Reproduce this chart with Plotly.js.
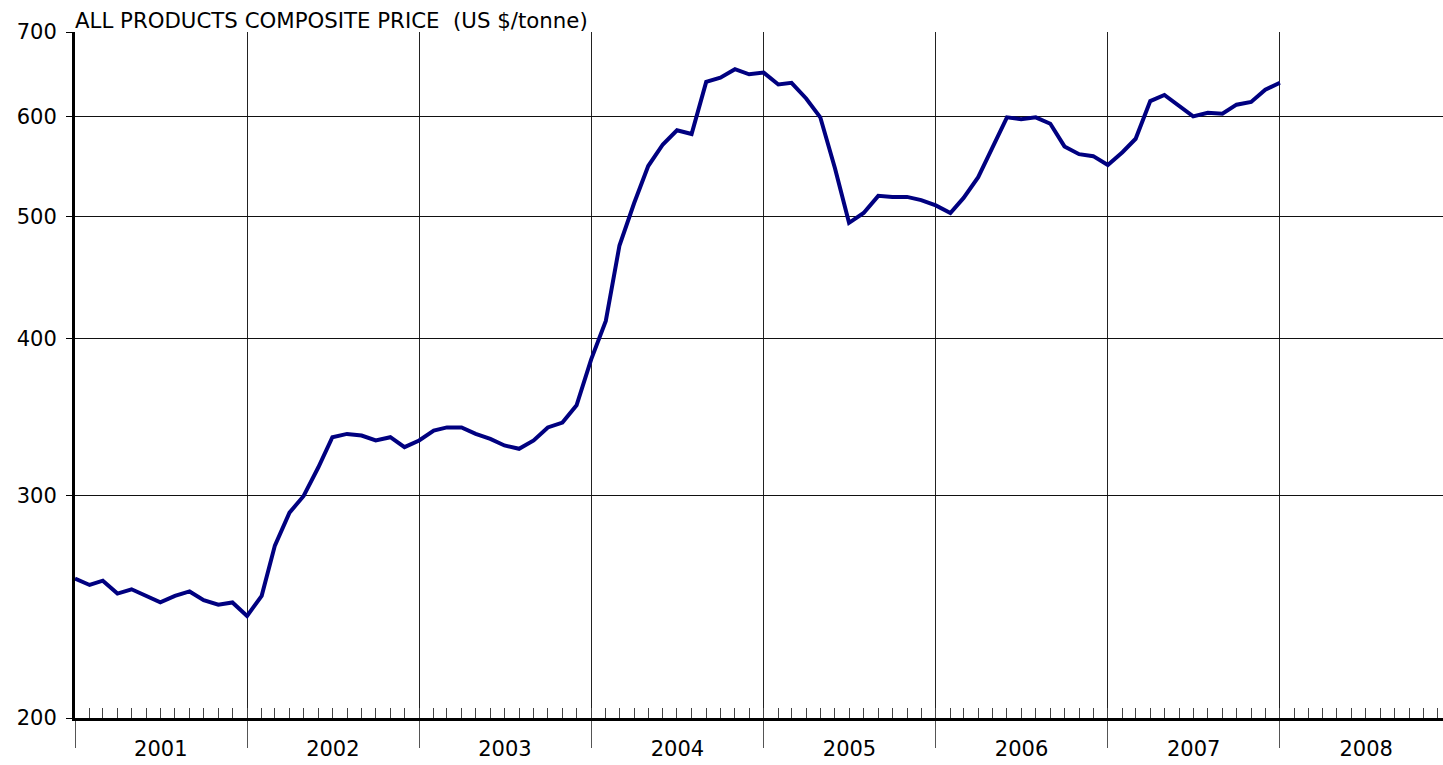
<!DOCTYPE html>
<html>
<head>
<meta charset="utf-8">
<script src="https://cdn.plot.ly/plotly-3.0.1.min.js"></script>
<style>html,body{margin:0;padding:0;background:#fff;overflow:hidden}#chart{width:1443px;height:765px}</style>
</head>
<body>
<div id="chart"></div>
<script>
// Monthly observations, Jan 2001 .. Jan 2008
var months = [
  "2001-01","2001-02","2001-03","2001-04","2001-05","2001-06","2001-07","2001-08","2001-09","2001-10","2001-11","2001-12",
  "2002-01","2002-02","2002-03","2002-04","2002-05","2002-06","2002-07","2002-08","2002-09","2002-10","2002-11","2002-12",
  "2003-01","2003-02","2003-03","2003-04","2003-05","2003-06","2003-07","2003-08","2003-09","2003-10","2003-11","2003-12",
  "2004-01","2004-02","2004-03","2004-04","2004-05","2004-06","2004-07","2004-08","2004-09","2004-10","2004-11","2004-12",
  "2005-01","2005-02","2005-03","2005-04","2005-05","2005-06","2005-07","2005-08","2005-09","2005-10","2005-11","2005-12",
  "2006-01","2006-02","2006-03","2006-04","2006-05","2006-06","2006-07","2006-08","2006-09","2006-10","2006-11","2006-12",
  "2007-01","2007-02","2007-03","2007-04","2007-05","2007-06","2007-07","2007-08","2007-09","2007-10","2007-11","2007-12",
  "2008-01"
];
var compositePrice = [
  258,255,257,251,253,250,247,250,252,248,246,247,
  241,250,274,291,300,316,334,336,335,332,334,328,
  332,338,340,340,336,333,329,327,332,340,343,354,
  385,413,474,512,548,570,585,581,639,644,654,648,
  650,636,638,620,599,546,494,503,519,518,518,515,
  510,503,517,537,567,599,597,599,592,568,560,558,
  549,562,576,617,624,611,600,604,603,613,616,630,
  638
];
var yearLabels = ["2001","2002","2003","2004","2005","2006","2007","2008"];
var yearCentres = ["2001-07-02","2002-07-02","2003-07-02","2004-07-02","2005-07-02","2006-07-02","2007-07-02","2008-07-02"];
var priceTicks = [200,300,400,500,600,700];
var chartTitle = "ALL PRODUCTS COMPOSITE PRICE  (US $/tonne)";

var xRange = ["2001-01-01","2008-12-12"];
var numFont = "DejaVu Sans, Verdana, sans-serif";

var traces = [
  {x: months, y: compositePrice, type: "scatter", mode: "lines",
   line: {color: "#000080", width: 4}, hoverinfo: "x+y", showlegend: false},
  {x: months, y: compositePrice, type: "scatter", mode: "lines", xaxis: "x2",
   line: {color: "rgba(0,0,0,0)", width: 0}, hoverinfo: "skip", showlegend: false}
];

var layout = {
  width: 1443, height: 765,
  margin: {l: 75, r: 0, t: 32, b: 47},
  paper_bgcolor: "#fff", plot_bgcolor: "#fff",
  xaxis: {
    type: "date", range: xRange,
    tickmode: "array", tickvals: yearCentres, ticktext: yearLabels,
    ticks: "", showgrid: false, zeroline: false,
    showline: true, linecolor: "#000", linewidth: 3,
    tickfont: {family: numFont, size: 21, color: "#000"},
    ticklabelstandoff: 10,
    minor: {tick0: "2001-01-01", dtick: "M12", showgrid: true, gridcolor: "#222", gridwidth: 1,
            ticks: "outside", ticklen: 27, tickcolor: "#555", tickwidth: 1}
  },
  xaxis2: {
    type: "date", range: xRange, overlaying: "x", anchor: "y", side: "bottom",
    tick0: "2001-01-01", dtick: "M1", ticks: "inside", ticklen: 10, tickwidth: 1, tickcolor: "#444",
    showticklabels: false, showgrid: false, zeroline: false, showline: false
  },
  yaxis: {
    type: "log", range: [Math.log10(200), Math.log10(700)],
    tickmode: "array", tickvals: priceTicks, ticktext: priceTicks.map(String),
    ticks: "outside", ticklen: 6, tickcolor: "#000",
    showgrid: true, gridcolor: "#111", gridwidth: 1,
    showline: true, linecolor: "#000", linewidth: 3, zeroline: false,
    tickfont: {family: numFont, size: 21, color: "#000"},
    ticklabelstandoff: 5
  },
  annotations: [{
    text: chartTitle, xref: "paper", yref: "paper", x: 0, y: 1,
    xanchor: "left", yanchor: "bottom", showarrow: false, yshift: -3, xshift: -2,
    font: {family: "DejaVu Sans, sans-serif", size: 21.3, color: "#000"}
  }]
};

Plotly.newPlot("chart", traces, layout, {displayModeBar: false, staticPlot: true});
</script>
</body>
</html>
